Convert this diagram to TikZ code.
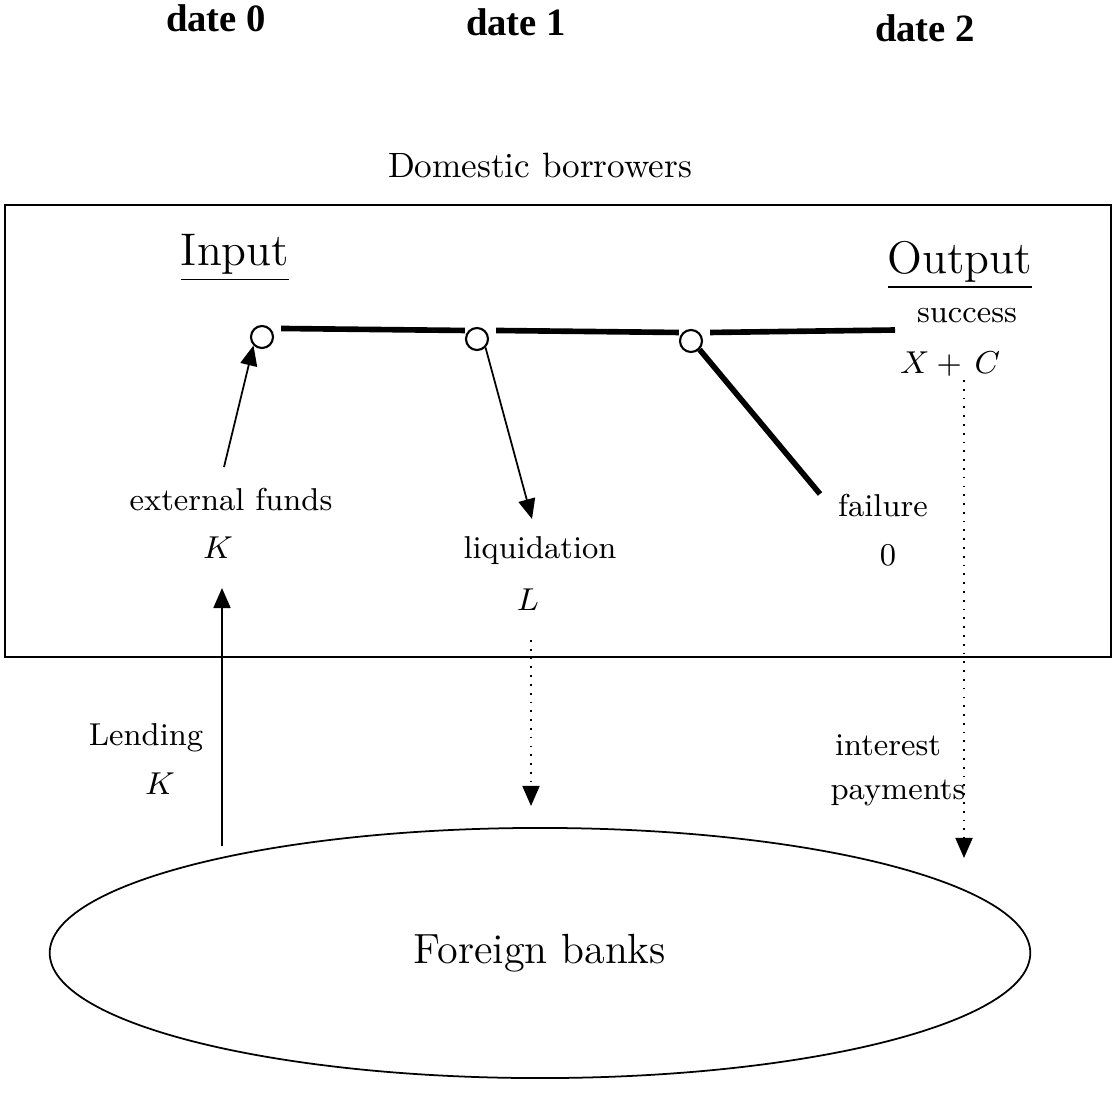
\documentclass[tikz,border=0pt]{standalone}
\usepackage{fontspec}
\usepackage{tikz}
\usetikzlibrary{arrows.meta, positioning, shapes.geometric}
\newfontfamily\datefont{Liberation Serif}
\tikzset{
  lbl/.style={font=\fontsize{9}{11}\selectfont, inner sep=1pt},
  mathlbl/.style={font=\fontsize{9.5}{11}\selectfont, inner sep=1pt},
  datelbl/.style={font=\datefont\bfseries\fontsize{11}{13}\selectfont},
  title/.style={font=\fontsize{10}{12}\selectfont},
  colhead/.style={font=\fontsize{13}{15}\selectfont},
  stage/.style={circle, draw, minimum size=0.22cm, inner sep=0pt, line width=0.6pt},
  arrow/.style={-{Triangle[length=0.2cm, width=0.17cm]}, line width=0.5pt},
  dotarrow/.style={-{Triangle[length=0.2cm, width=0.17cm]}, dotted, line width=0.5pt},
  branch/.style={line width=1.6pt}
}

\begin{document}
\begin{tikzpicture}[x=0.01cm, y=-0.01cm]
  \useasboundingbox (0,0) rectangle (1115,1115);

  % dates
  \node[datelbl] (d0) at (216,18) {date 0};
  \node[datelbl] (d1) at (516,22) {date 1};
  \node[datelbl] (d2) at (925,28) {date 2};

  % borrowers box
  \node[title] (dom) at (540,165) {Domestic borrowers};
  \draw[line width=0.6pt] (5,205) rectangle (1111,657);
  \node[colhead] (input) at (235,258) {\underline{Input}};
  \node[colhead] (output) at (960,265) {\underline{Output}};

  % project stages
  \node[stage] (s0) at (262,337) {};
  \node[stage] (s1) at (477,339) {};
  \node[stage] (s2) at (691,341) {};
  \coordinate (end) at (895,330);
  \draw[branch] ([xshift=3pt]s0.north east) -- ([xshift=-1pt]s1.north west);
  \draw[branch] ([xshift=3pt]s1.north east) -- ([xshift=-1pt]s2.north west);
  \draw[branch] ([xshift=3pt]s2.north east) -- (end);

  \node[lbl] (succ) at (967,316) {success};
  \node[mathlbl] (xc) at (950,364) {$X+\,C$};
  \node[lbl] (ext) at (231,500) {external funds};
  \node[mathlbl] (k1) at (218,548) {$K$};
  \node[lbl] (liq) at (540,551) {liquidation};
  \node[mathlbl] (l) at (528,600) {$L$};
  \node[lbl] (fail) at (883,506) {failure};
  \node[lbl] (zero) at (888,555) {0};

  \coordinate (extTop) at (224,467);
  \coordinate (liqTop) at (532,519);
  \coordinate (failTop) at (820,494);
  \draw[arrow] (extTop) -- (s0.south west);
  \draw[arrow] (s1.south east) -- (liqTop);
  \draw[branch] (s2.south east) -- (failTop);

  % foreign banks
  \node[draw, ellipse, line width=0.5pt, minimum width=9.8cm, minimum height=2.5cm,
    font=\fontsize{12}{14}\selectfont] (banks) at (540,953) {Foreign banks};

  \coordinate (lendTop) at (222,588);
  \coordinate (lendBot) at (222,846);
  \draw[arrow] (lendBot) -- (lendTop);
  \node[lbl] (lend) at (146,738) {Lending};
  \node[mathlbl] (k2) at (160,784) {$K$};

  \coordinate (liqA) at (531,640);
  \coordinate (liqB) at (531,806);
  \draw[dotarrow] (liqA) -- (liqB);

  \coordinate (intA) at (964,380);
  \coordinate (intB) at (964,858);
  \draw[dotarrow] (intA) -- (intB);
  \node[lbl] (int) at (888,745) {interest};
  \node[lbl] (pay) at (898,793) {payments};
\end{tikzpicture}
\end{document}
